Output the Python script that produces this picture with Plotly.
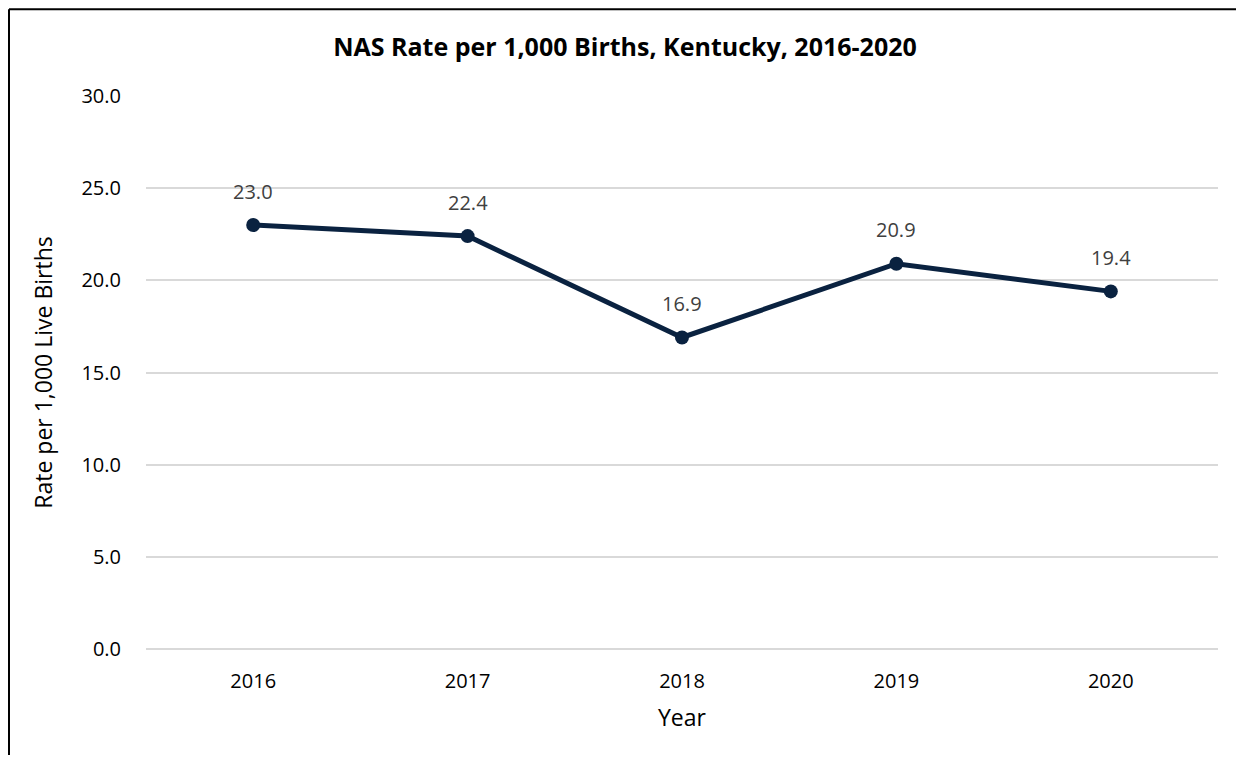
import plotly.graph_objects as go

years = ['2016', '2017', '2018', '2019', '2020']
rates = [23.0, 22.4, 16.9, 20.9, 19.4]
y_ticks = [0, 5, 10, 15, 20, 25, 30]

NAVY = '#0A2240'
FONT = 'Open Sans'

fig = go.Figure()
fig.add_trace(go.Scatter(
    x=years, y=rates, mode='lines+markers',
    line=dict(color=NAVY, width=5),
    marker=dict(color=NAVY, size=14),
    hoverinfo='x+y', showlegend=False,
))

# data labels; category axis positions are the index of each year
for i, v in enumerate(rates):
    fig.add_annotation(x=i, y=v, text=f'{v:.1f}', showarrow=False,
                       yshift=34, font=dict(size=20, color='#404040', family=FONT))

# outer chart border: only left and top edges are inside the crop
fig.add_shape(type='line', xref='paper', yref='paper',
              x0=-0.1278, x1=-0.1278, y0=-0.1917, y1=1.157,
              line=dict(color='black', width=2))
fig.add_shape(type='line', xref='paper', yref='paper',
              x0=-0.1278, x1=1.0168, y0=1.157, y1=1.157,
              line=dict(color='black', width=2))

fig.update_layout(
    width=1228, height=747,
    margin=dict(l=138, r=18, t=88, b=106),
    paper_bgcolor='white', plot_bgcolor='white',
    font=dict(family=FONT, color='black', size=20),
    title=dict(text='<b>NAS Rate per 1,000 Births, Kentucky, 2016-2020</b>',
               x=0.4468, xanchor='center', xref='paper',
               y=0.948, yanchor='middle', yref='container',
               font=dict(size=25, color='black', family=FONT)),
)
fig.update_xaxes(type='category', range=[-0.5, 4.5], showgrid=False, showline=False,
                 ticks='', ticklabelstandoff=18, tickfont=dict(size=20),
                 title=dict(text='Year', font=dict(size=23), standoff=16))
fig.update_yaxes(range=[0, 30], tickvals=y_ticks, tickformat='.1f',
                 showgrid=True, gridcolor='#D9D9D9', gridwidth=1.5,
                 zeroline=True, zerolinecolor='#D9D9D9', zerolinewidth=1.5,
                 showline=False, ticks='', ticklabelstandoff=24, tickfont=dict(size=20),
                 title=dict(text='Rate per 1,000 Live Births', font=dict(size=23), standoff=22))

fig.write_html('out.html')
